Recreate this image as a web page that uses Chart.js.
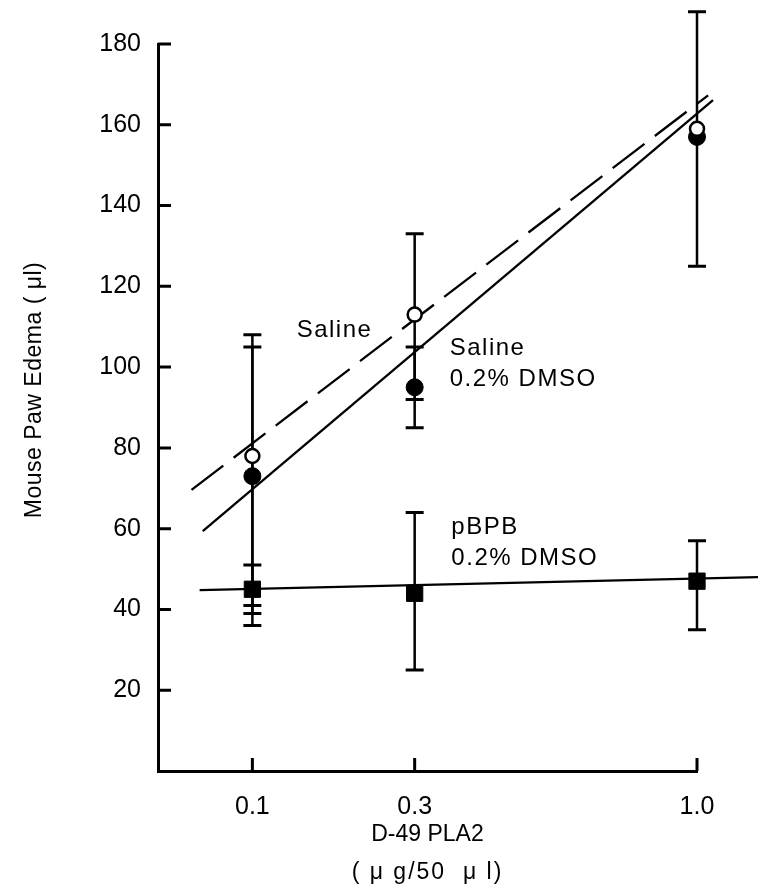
<!DOCTYPE html>
<html lang="en">
<head>
<meta charset="UTF-8">
<title>Mouse Paw Edema - D-49 PLA2</title>
<script src="https://cdn.jsdelivr.net/npm/chart.js"></script>
<style>
  html, body { margin: 0; padding: 0; background: #fff; }
  #wrap { position: relative; width: 758px; height: 887px; }
</style>
</head>
<body>
<div id="wrap"><canvas id="edemaChart"></canvas></div>
<script>
// doses (ug/50 ul) and tick labels
const doses = [0.1, 0.3, 1.0];
const xTickLabels = ['0.1', '0.3', '1.0'];
const yTicks = [20, 40, 60, 80, 100, 120, 140, 160, 180];

// Saline (open circles)
const salineMean = [78, 113, 159];
const salineHigh = [108, 133, null];
const salineLow = [36, 92, null];

// Saline 0.2% DMSO (filled circles)
const dmsoMean = [73, 95, 157];
const dmsoHigh = [105, 105, 188];
const dmsoLow = [41, 85, 125];

// pBPB 0.2% DMSO (filled squares)
const pbpbMean = [45, 44, 47];
const pbpbHigh = [51, 64, 57];
const pbpbLow = [39, 25, 35];

// fitted lines, end points
const salineFitX = [0.056, 1.038];
const salineFitY = [69.6, 167.3];
const dmsoFitX = [0.063, 1.055];
const dmsoFitY = [59.4, 166.1];
const pbpbFitX = [0.061, 1.22];
const pbpbFitY = [44.8, 48];

// text labels next to the lines (dose, value)
const notes = [
  { lines: ['Saline'], x: 0.142, y: 109 },
  { lines: ['Saline', '0.2% DMSO'], x: 0.361, y: 104.7 },
  { lines: ['pBPB', '0.2% DMSO'], x: 0.364, y: 60.2 }
];

const FONT = '"Liberation Sans", Arial, Helvetica, sans-serif';
const X_EXP = 0.4; // the original dose axis is squeezed, roughly dose^0.4

// x scale spaced like the printed figure
class PowerScale extends Chart.LinearScale {
  getPixelForValue(value) {
    const a = Math.pow(this.min, X_EXP), b = Math.pow(this.max, X_EXP);
    return this.getPixelForDecimal((Math.pow(value, X_EXP) - a) / (b - a));
  }
  getValueForPixel(pixel) {
    const a = Math.pow(this.min, X_EXP), b = Math.pow(this.max, X_EXP);
    return Math.pow(a + this.getDecimalForPixel(pixel) * (b - a), 1 / X_EXP);
  }
}
PowerScale.id = 'power';
PowerScale.defaults = {};
Chart.register(PowerScale);

const toPts = (xs, ys) => xs.map((v, i) => ({ x: v, y: ys[i] }));

// error bars under the markers
const errorBars = {
  id: 'errorBars',
  beforeDatasetsDraw(chart) {
    const { ctx, scales: { x, y } } = chart;
    const groups = [[salineHigh, salineLow], [dmsoHigh, dmsoLow], [pbpbHigh, pbpbLow]];
    ctx.save();
    ctx.strokeStyle = '#000';
    groups.forEach(([hi, lo]) => {
      doses.forEach((d, i) => {
        if (hi[i] == null) return;
        const px = x.getPixelForValue(d);
        const top = y.getPixelForValue(hi[i]);
        const bot = y.getPixelForValue(lo[i]);
        ctx.lineWidth = 2.5;
        ctx.beginPath();
        ctx.moveTo(px, top); ctx.lineTo(px, bot);
        ctx.stroke();
        ctx.lineWidth = 3;
        ctx.beginPath();
        ctx.moveTo(px - 9, top); ctx.lineTo(px + 9, top);
        ctx.moveTo(px - 9, bot); ctx.lineTo(px + 9, bot);
        ctx.stroke();
      });
    });
    ctx.restore();
  }
};

// inward tick marks, titles and line labels
const decorations = {
  id: 'decorations',
  afterDraw(chart) {
    const { ctx, chartArea: area, scales: { x, y } } = chart;
    ctx.save();
    ctx.strokeStyle = '#000';
    ctx.fillStyle = '#000';
    ctx.lineWidth = 3;
    ctx.beginPath();
    yTicks.forEach(v => {
      const py = y.getPixelForValue(v);
      ctx.moveTo(area.left, py); ctx.lineTo(area.left + 13, py);
    });
    doses.forEach(v => {
      const px = x.getPixelForValue(v);
      ctx.moveTo(px, area.bottom); ctx.lineTo(px, area.bottom - 13);
    });
    ctx.stroke();

    // line labels
    ctx.font = '24px ' + FONT;
    ctx.letterSpacing = '1.5px';
    ctx.textAlign = 'left';
    ctx.textBaseline = 'middle';
    notes.forEach(n => {
      const px = x.getPixelForValue(n.x);
      const py = y.getPixelForValue(n.y);
      n.lines.forEach((t, k) => ctx.fillText(t, px, py + k * 31));
    });

    // x title
    ctx.font = '23px ' + FONT;
    ctx.textAlign = 'center';
    const cx = (area.left + area.right) / 2;
    ctx.letterSpacing = '0px';
    ctx.fillText('D-49 PLA2', cx, area.bottom + 64);
    ctx.letterSpacing = '2px';
    ctx.fillText('( μ g/50  μ l)', cx, area.bottom + 102);

    // y title
    ctx.translate(35, 390);
    ctx.rotate(-Math.PI / 2);
    ctx.font = '23px ' + FONT;
    ctx.letterSpacing = '0.5px';
    ctx.fillText('Mouse Paw Edema ( μl)', 0, 0);
    ctx.restore();
  }
};

const ctx = document.getElementById('edemaChart').getContext('2d');
const edemaChart = new Chart(ctx, {
  type: 'line',
  data: {
    datasets: [
      {
        label: 'Saline',
        data: toPts(doses, salineMean),
        showLine: false,
        clip: false,
        pointStyle: 'circle',
        pointRadius: 7,
        pointBackgroundColor: '#fff',
        pointBorderColor: '#000',
        pointBorderWidth: 2.5
      },
      {
        label: 'Saline 0.2% DMSO',
        data: toPts(doses, dmsoMean),
        showLine: false,
        clip: false,
        pointStyle: 'circle',
        pointRadius: 8.5,
        pointBackgroundColor: '#000',
        pointBorderColor: '#000',
        pointBorderWidth: 1
      },
      {
        label: 'pBPB 0.2% DMSO',
        data: toPts(doses, pbpbMean),
        showLine: false,
        clip: false,
        pointStyle: 'rect',
        pointRadius: 11.5,
        pointBackgroundColor: '#000',
        pointBorderColor: '#000',
        pointBorderWidth: 1
      },
      {
        label: 'Saline fit',
        data: toPts(salineFitX, salineFitY),
        clip: false,
        borderColor: '#000',
        borderWidth: 2.3,
        borderDash: [40, 13],
        pointRadius: 0
      },
      {
        label: 'Saline 0.2% DMSO fit',
        data: toPts(dmsoFitX, dmsoFitY),
        clip: false,
        borderColor: '#000',
        borderWidth: 2.3,
        pointRadius: 0
      },
      {
        label: 'pBPB fit',
        data: toPts(pbpbFitX, pbpbFitY),
        clip: false,
        borderColor: '#000',
        borderWidth: 2.3,
        pointRadius: 0
      }
    ]
  },
  options: {
    responsive: true,
    maintainAspectRatio: false,
    animation: false,
    layout: { padding: { top: 44, right: 61, left: 0, bottom: 0 } },
    plugins: {
      legend: { display: false },
      tooltip: { enabled: false }
    },
    scales: {
      x: {
        type: 'power',
        min: 0.038,
        max: 1.0,
        afterFit: s => { s.height = 116; },
        afterBuildTicks: s => { s.ticks = doses.map(v => ({ value: v })); },
        grid: { display: false },
        border: { display: true, color: '#000', width: 3 },
        ticks: {
          color: '#000',
          padding: 13,
          autoSkip: false,
          maxRotation: 0,
          font: { family: FONT, size: 25 },
          callback: (v, i) => xTickLabels[i]
        }
      },
      y: {
        min: 0,
        max: 180,
        afterFit: s => { s.width = 158; },
        afterBuildTicks: s => { s.ticks = yTicks.map(v => ({ value: v })); },
        grid: { display: false },
        border: { display: true, color: '#000', width: 3 },
        ticks: {
          color: '#000',
          padding: 9,
          font: { family: FONT, size: 25 }
        }
      }
    }
  },
  plugins: [errorBars, decorations]
});
</script>
</body>
</html>
